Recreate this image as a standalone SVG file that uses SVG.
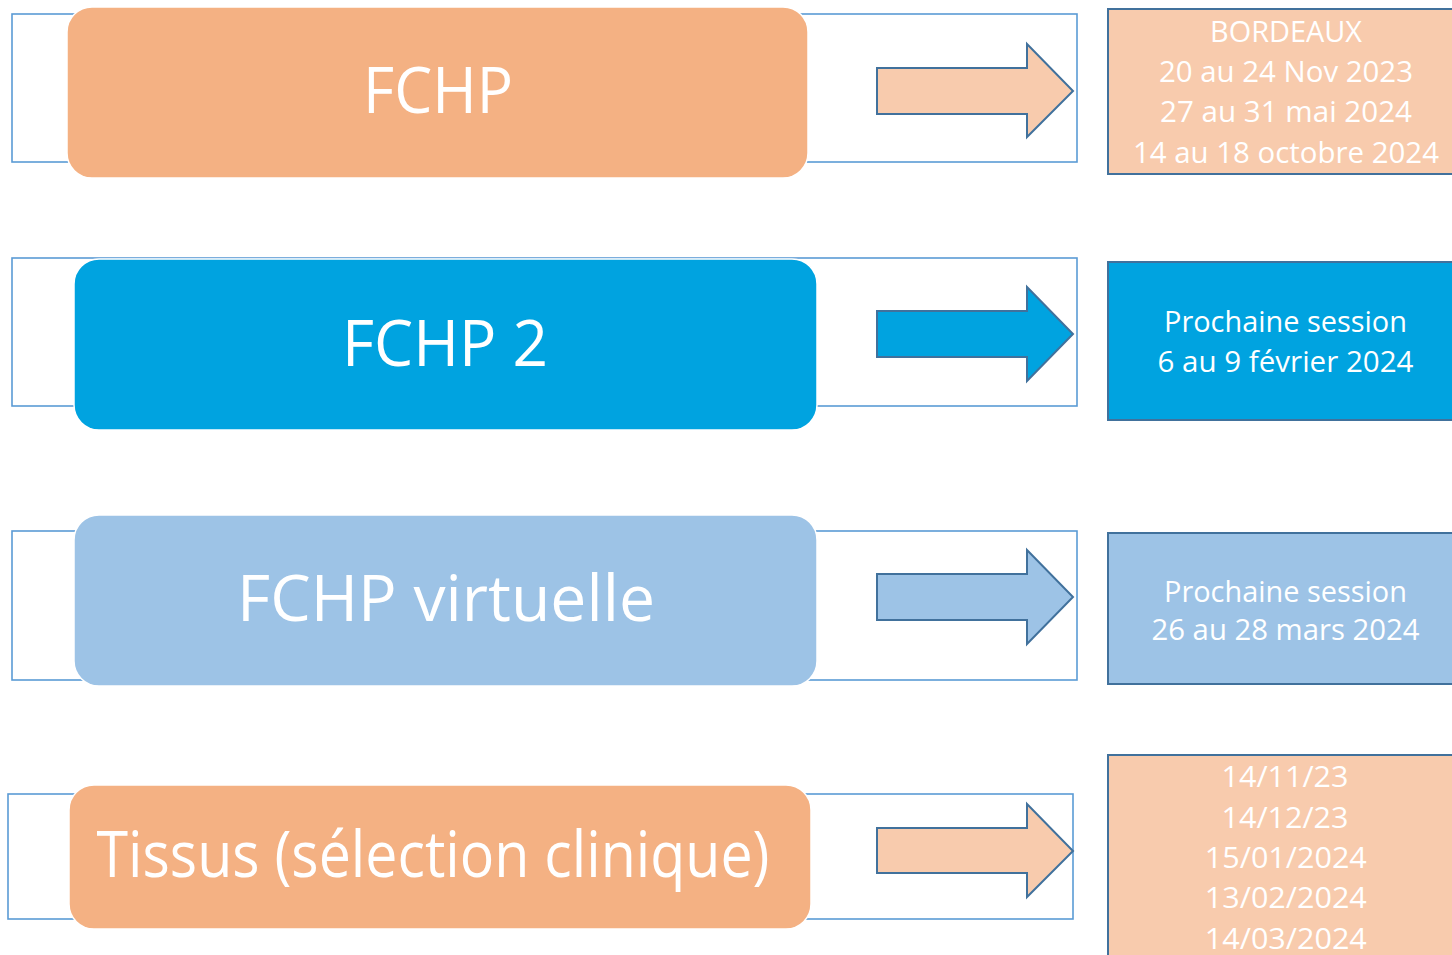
<svg xmlns="http://www.w3.org/2000/svg" width="1452" height="955" viewBox="0 0 1452 955">
<style>
.frame{fill:#FFFFFF;stroke:#5B9BD5;stroke-width:1.6}
.main{stroke:#FFFFFF;stroke-width:1.5}
.box{stroke:#41719C;stroke-width:2}
.arrow{stroke:#41719C;stroke-width:2;stroke-linejoin:miter}
.or{fill:#F4B183}
.lor{fill:#F8CBAD}
.bl{fill:#00A3E0}
.lbl{fill:#9DC3E6}
text{font-family:"Open Sans","Noto Sans","Liberation Sans",sans-serif;fill:#FFFFFF;text-anchor:middle}
.big{font-size:64px}
.small{font-size:30px}
</style>
<g id="node-fchp">
<rect class="frame" x="12" y="14" width="1065" height="148"/>
<rect class="main or" x="67" y="7" width="741" height="171" rx="25" ry="25"/>
<text class="big" x="438" y="112.7" textLength="150" lengthAdjust="spacingAndGlyphs">FCHP</text>
</g>
<g id="node-fchp-dates">
<rect class="box lor" x="1108" y="9" width="360" height="165"/>
<text class="small" x="1286" y="41.7" textLength="152" lengthAdjust="spacingAndGlyphs">BORDEAUX</text>
<text class="small" x="1286" y="81.7" textLength="254" lengthAdjust="spacingAndGlyphs">20 au 24 Nov 2023</text>
<text class="small" x="1286" y="122.3" textLength="252" lengthAdjust="spacingAndGlyphs">27 au 31 mai 2024</text>
<text class="small" x="1286" y="163.3" textLength="306" lengthAdjust="spacingAndGlyphs">14 au 18 octobre 2024</text>
</g>
<g id="node-fchp2">
<rect class="frame" x="12" y="258" width="1065" height="148"/>
<rect class="main bl" x="74" y="259" width="743" height="171" rx="25" ry="25"/>
<text class="big" x="445" y="366" textLength="206" lengthAdjust="spacingAndGlyphs">FCHP 2</text>
</g>
<g id="node-fchp2-dates">
<rect class="box bl" x="1108" y="262" width="360" height="158"/>
<text class="small" x="1285.5" y="332.3" textLength="243" lengthAdjust="spacingAndGlyphs">Prochaine session</text>
<text class="small" x="1285.5" y="371.7" textLength="256" lengthAdjust="spacingAndGlyphs">6 au 9 février 2024</text>
</g>
<g id="node-virtuelle">
<rect class="frame" x="12" y="531" width="1065" height="149"/>
<rect class="main lbl" x="74" y="515" width="743" height="171" rx="25" ry="25"/>
<text class="big" x="446" y="621" textLength="418" lengthAdjust="spacingAndGlyphs">FCHP virtuelle</text>
</g>
<g id="node-virtuelle-dates">
<rect class="box lbl" x="1108" y="533" width="360" height="151"/>
<text class="small" x="1285.5" y="601.7" textLength="243" lengthAdjust="spacingAndGlyphs">Prochaine session</text>
<text class="small" x="1285.5" y="640" textLength="268" lengthAdjust="spacingAndGlyphs">26 au 28 mars 2024</text>
</g>
<g id="node-tissus">
<rect class="frame" x="8" y="794" width="1065" height="125"/>
<rect class="main or" x="69" y="785" width="742" height="144" rx="25" ry="25"/>
<text class="big" x="433" y="877" textLength="673" lengthAdjust="spacingAndGlyphs">Tissus (sélection clinique)</text>
</g>
<g id="node-tissus-dates">
<rect class="box lor" x="1108" y="755" width="360" height="220"/>
<text class="small" x="1285" y="786.7" textLength="127" lengthAdjust="spacingAndGlyphs">14/11/23</text>
<text class="small" x="1285" y="828.3" textLength="127" lengthAdjust="spacingAndGlyphs">14/12/23</text>
<text class="small" x="1285.8" y="868.3" textLength="162" lengthAdjust="spacingAndGlyphs">15/01/2024</text>
<text class="small" x="1285.8" y="908.3" textLength="162" lengthAdjust="spacingAndGlyphs">13/02/2024</text>
<text class="small" x="1285.8" y="948.5" textLength="162" lengthAdjust="spacingAndGlyphs">14/03/2024</text>
</g>
<g id="connectors">
<polygon class="arrow lor" points="877,68 1027,68 1027,44 1073,91 1027,137 1027,114 877,114"/>
<polygon class="arrow bl" points="877,311 1027,311 1027,287 1073,334 1027,381 1027,357 877,357"/>
<polygon class="arrow lbl" points="877,574 1027,574 1027,550 1073,597 1027,644 1027,620 877,620"/>
<polygon class="arrow lor" points="877,828 1027,828 1027,804 1073,851 1027,897 1027,873 877,873"/>
</g>
</svg>
